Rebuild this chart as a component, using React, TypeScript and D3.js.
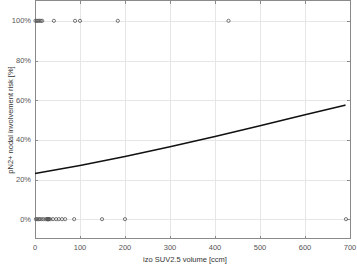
import React, { useEffect, useRef } from "react";
import * as d3 from "d3";

// observed outcomes: volume [ccm] of patients with pN2+ (1) and without (0)
const positiveVolumes = [1, 4, 7, 10, 13, 16, 42, 89, 100, 184, 430];
const negativeVolumes = [
  2, 5, 8, 11, 15, 19, 24, 27, 28, 29, 30, 31, 34, 40, 47, 53, 60, 67, 87, 149,
  200, 691,
];

// fitted risk curve
const curveVolumes = [0, 100, 200, 300, 400, 500, 600, 690];
const curveRisk = [0.23, 0.271, 0.316, 0.365, 0.417, 0.471, 0.526, 0.575];

const xTicks = [0, 100, 200, 300, 400, 500, 600, 700];
const yTicks = [0, 0.2, 0.4, 0.6, 0.8, 1];

const App = () => {
  const svgRef = useRef<SVGSVGElement>(null);

  useEffect(() => {
    if (!svgRef.current) return;
    const svg = d3.select(svgRef.current);
    svg.selectAll("*").remove();

    const left = 35;
    const right = 350;
    const top = 1;
    const bottom = 239;

    const x = d3.scaleLinear().domain([0, 700]).range([left, right]);
    const y = d3.scaleLinear().domain([-0.1, 1.1]).range([bottom, top]);

    const font = "'Liberation Sans', Arial, sans-serif";

    // background
    svg
      .append("rect")
      .attr("x", left)
      .attr("y", top)
      .attr("width", right - left)
      .attr("height", bottom - top)
      .attr("fill", "#fff");

    // grid
    const grid = svg.append("g").attr("stroke", "#e6e6e6").attr("stroke-width", 1);
    xTicks.forEach((t) => {
      grid
        .append("line")
        .attr("x1", Math.round(x(t)) + 0.5)
        .attr("x2", Math.round(x(t)) + 0.5)
        .attr("y1", top)
        .attr("y2", bottom);
    });
    yTicks.forEach((t) => {
      grid
        .append("line")
        .attr("x1", left)
        .attr("x2", right)
        .attr("y1", Math.round(y(t)) + 0.5)
        .attr("y2", Math.round(y(t)) + 0.5);
    });

    // axes box
    svg
      .append("rect")
      .attr("x", left + 0.5)
      .attr("y", top - 0.5)
      .attr("width", right - left)
      .attr("height", bottom - top)
      .attr("fill", "none")
      .attr("stroke", "#8a8a8a")
      .attr("stroke-width", 1);

    // inward ticks on all four sides
    const ticks = svg.append("g").attr("stroke", "#8a8a8a").attr("stroke-width", 1);
    xTicks.forEach((t) => {
      const px = Math.round(x(t)) + 0.5;
      ticks.append("line").attr("x1", px).attr("x2", px).attr("y1", bottom).attr("y2", bottom - 3);
      ticks.append("line").attr("x1", px).attr("x2", px).attr("y1", top).attr("y2", top + 3);
    });
    yTicks.forEach((t) => {
      const py = Math.round(y(t)) + 0.5;
      ticks.append("line").attr("x1", left).attr("x2", left + 3).attr("y1", py).attr("y2", py);
      ticks.append("line").attr("x1", right).attr("x2", right - 3).attr("y1", py).attr("y2", py);
    });

    // tick labels
    svg
      .append("g")
      .selectAll("text")
      .data(xTicks)
      .join("text")
      .attr("x", (d) => x(d))
      .attr("y", 250)
      .attr("text-anchor", "middle")
      .attr("font-family", font)
      .attr("font-size", 7.5)
      .attr("fill", "#555")
      .text((d) => d);

    svg
      .append("g")
      .selectAll("text")
      .data(yTicks)
      .join("text")
      .attr("x", 31)
      .attr("y", (d) => y(d) + 2.6)
      .attr("text-anchor", "end")
      .attr("font-family", font)
      .attr("font-size", 7.5)
      .attr("fill", "#555")
      .text((d) => `${Math.round(d * 100)}%`);

    // axis titles
    svg
      .append("text")
      .attr("x", 185)
      .attr("y", 262)
      .attr("text-anchor", "middle")
      .attr("font-family", font)
      .attr("font-size", 7.5)
      .attr("fill", "#333")
      .text("izo SUV2.5 volume [ccm]");

    svg
      .append("text")
      .attr("transform", `translate(13, ${(top + bottom) / 2}) rotate(-90)`)
      .attr("text-anchor", "middle")
      .attr("font-family", font)
      .attr("font-size", 7.5)
      .attr("fill", "#333")
      .text("pN2+ nodal involvement risk [%]");

    // observed points
    const points = svg.append("g").attr("fill", "none").attr("stroke", "#555").attr("stroke-width", 0.8);
    positiveVolumes.forEach((v) => {
      points.append("circle").attr("cx", x(v)).attr("cy", y(1)).attr("r", 1.6);
    });
    negativeVolumes.forEach((v) => {
      points.append("circle").attr("cx", x(v)).attr("cy", y(0)).attr("r", 1.6);
    });

    // fitted curve
    const line = d3
      .line<number>()
      .x((d) => x(d))
      .y((_, i) => y(curveRisk[i]))
      .curve(d3.curveMonotoneX);

    svg
      .append("path")
      .attr("d", line(curveVolumes))
      .attr("fill", "none")
      .attr("stroke", "#111")
      .attr("stroke-width", 1.6);
  }, []);

  return (
    <svg
      ref={svgRef}
      width={357}
      height={265}
      style={{ position: "absolute", left: 0, top: 0, background: "#fff" }}
    />
  );
};

export default App;
